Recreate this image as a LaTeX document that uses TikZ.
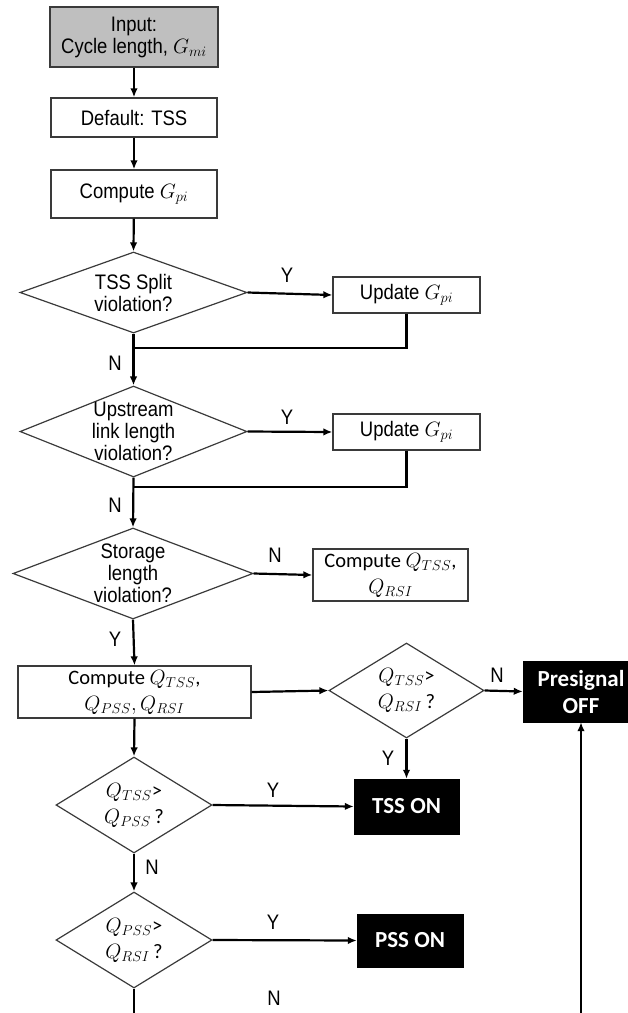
\documentclass[tikz,border=0pt]{standalone}
\usepackage{fontspec}
\setmainfont{Liberation Sans}[FakeStretch=0.88]
\newfontfamily\calib{Carlito}
\usetikzlibrary{shapes.geometric,arrows.meta}
\definecolor{boxgray}{HTML}{BFBFBF}
\definecolor{edgegray}{HTML}{3A3A3A}
\tikzset{
  ar/.style={font=\fontsize{21}{22}\selectfont, align=center, inner sep=0pt},
  ca/.style={font=\calib\fontsize{20.5}{26}\selectfont, align=center, inner sep=0pt},
  box/.style={draw=edgegray, line width=1.3pt, rectangle, inner sep=0pt},
  dia/.style={draw=edgegray, line width=1.2pt, diamond, inner sep=0pt},
  blk/.style={fill=black, draw=black, rectangle, text=white, font=\calib\bfseries\fontsize{23}{27}\selectfont, align=center, inner sep=0pt},
  arr/.style={-{Latex[length=9pt,width=7.5pt]}, line width=2.2pt},
  ln/.style={line width=2.2pt},
  yn/.style={font=\fontsize{21}{22}\selectfont, inner sep=0pt},
}
\begin{document}
\begin{tikzpicture}[x=1pt,y=-1pt]
\useasboundingbox (0,0) rectangle (628,1013);
% boxes
\node[box, fill=boxgray, minimum width=168, minimum height=60, ar] (in) at (134,37) {Input:\\Cycle length, $G_{mi}$};
\node[box, minimum width=166, minimum height=39, ar] (def) at (134,117.5) {Default: TSS};
\node[box, minimum width=166, minimum height=48, ar] (cg) at (134,194) {Compute $G_{pi}$};
% diamond 1
\node[dia, minimum width=227, minimum height=81] (d1) at (133.5,292.5) {};
\node[ar] (d1t) at (d1) {TSS Split\\violation?};
\node[box, minimum width=147, minimum height=36, ar] (u1) at (406.5,295) {Update $G_{pi}$};
% diamond 2
\node[dia, minimum width=227, minimum height=91] (d2) at (133.5,431.5) {};
\node[ar] (d2t) at (d2) {Upstream\\link length\\violation?};
\node[box, minimum width=147, minimum height=36, ar] (u2) at (406.5,432) {Update $G_{pi}$};
% diamond 3
\node[dia, minimum width=240, minimum height=91] (d3) at (133,573.5) {};
\node[ar] (d3t) at (d3) {Storage\\length\\violation?};
\node[box, minimum width=155, minimum height=52, ca] (cn) at (390.5,575) {Compute $Q_{TSS}$,\\$Q_{RSI}$};
% compute Q
\node[box, minimum width=233, minimum height=52, ca] (cq) at (134.5,692) {Compute $Q_{TSS}$,\\$Q_{PSS}, Q_{RSI}$};
% diamond 4
\node[dia, minimum width=155, minimum height=95] (d4) at (406.5,690.5) {};
\node[ca] (d4t) at (d4) {$Q_{TSS}$>\\$Q_{RSI}$\,?};
\node[blk, minimum width=116, minimum height=61] (po) at (581,691.5) {Presignal\\OFF};
% diamond 5
\node[dia, minimum width=156, minimum height=96] (d5) at (134,805) {};
\node[ca] (d5t) at (d5) {$Q_{TSS}$>\\$Q_{PSS}$\,?};
\node[blk, minimum width=105, minimum height=55] (tss) at (406.5,806.5) {TSS ON};
% diamond 6
\node[dia, minimum width=156, minimum height=96] (d6) at (134,940) {};
\node[ca] (d6t) at (d6) {$Q_{PSS}$>\\$Q_{RSI}$\,?};
\node[blk, minimum width=106, minimum height=53] (pss) at (410,940.5) {PSS ON};
% free ends
\coordinate (e1) at (134,1020);
\coordinate (e2) at (581,1020);
\coordinate (j1) at (134,348);
\coordinate (j2) at (134,487);
% connectors
\draw[arr] (in) -- (def);
\draw[arr] (def) -- (cg);
\draw[arr] (cg) -- (d1.north);
\draw[arr] (d1.east) -- (u1.west);
\draw[ln] (u1.south) |- (j1);
\draw[arr] (d1.south) -- (d2.north);
\draw[arr] (d2.east) -- (u2.west);
\draw[ln] (u2.south) |- (j2);
\draw[arr] (d2.south) -- (d3.north);
\draw[arr] (d3.east) -- (cn.west);
\draw[arr] (d3.south) -- (cq.north);
\draw[arr] (cq.east) -- (d4.west);
\draw[arr] (d4.east) -- (po.west);
\draw[arr] (d4.south) -- (tss.north);
\draw[arr] (cq.south) -- (d5.north);
\draw[arr] (d5.east) -- (tss.west);
\draw[arr] (d5.south) -- (d6.north);
\draw[arr] (d6.east) -- (pss.west);
\draw[ln] (d6.south) -- (e1);
\draw[arr] (e2) -- (po.south);
% labels
\node[yn] (l1) at (287,275) {Y};
\node[yn] (l2) at (115,363) {N};
\node[yn] (l3) at (287,417) {Y};
\node[yn] (l4) at (115,505) {N};
\node[yn] (l5) at (275,555) {N};
\node[yn] (l6) at (115,639) {Y};
\node[yn] (l7) at (497,675) {N};
\node[yn] (l8) at (388,758) {Y};
\node[yn] (l9) at (273,790) {Y};
\node[yn] (l10) at (152,867) {N};
\node[yn] (l11) at (273,922) {Y};
\node[yn] (l12) at (274,998) {N};
\end{tikzpicture}
\end{document}
